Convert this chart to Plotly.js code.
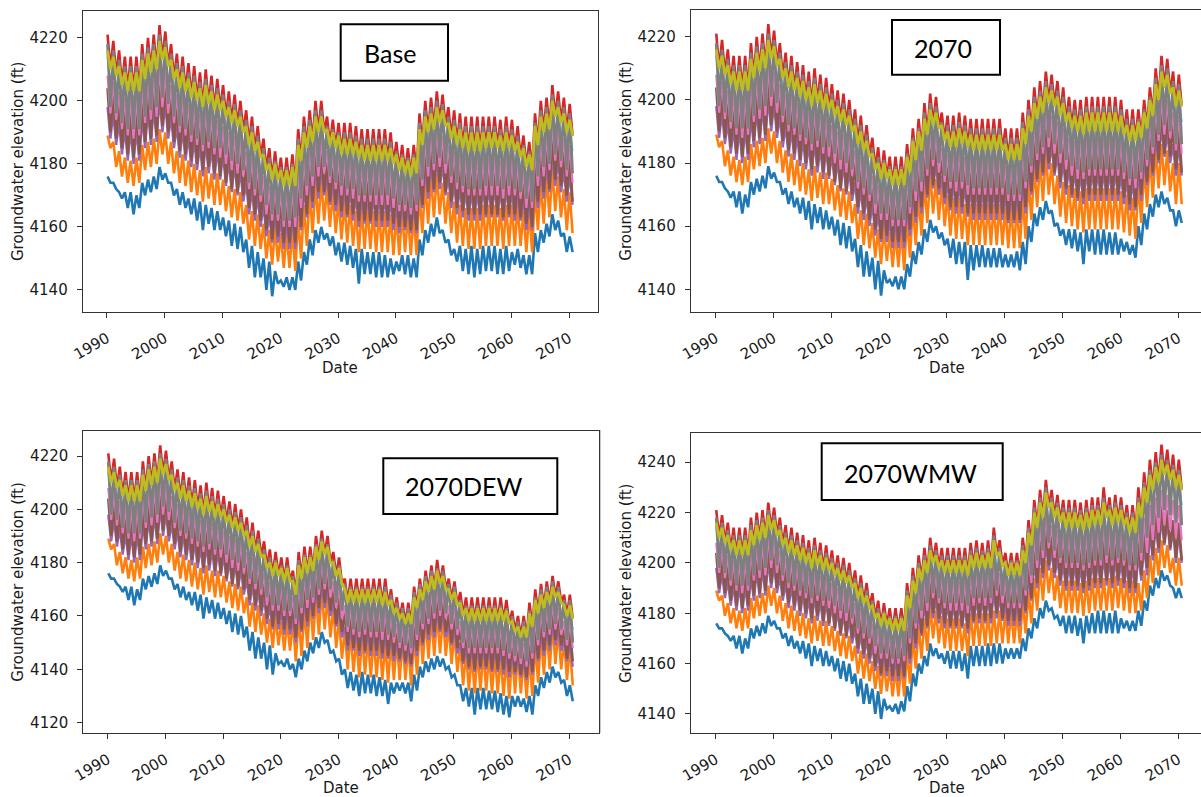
<!DOCTYPE html>
<html>
<head>
<meta charset="utf-8">
<script src="https://cdn.plot.ly/plotly-3.0.1.min.js"></script>
<style>
html,body{margin:0;padding:0;background:#fff;}
#chart{width:1201px;height:797px;}
</style>
</head>
<body>
<div id="chart"></div>
<script>
// ---------------- DATA ----------------
// Each array holds, for every year, the [seasonal peak, seasonal trough].
const firstYear = 1990, lastYear = 2070;
const decadeTicks = [1990, 2000, 2010, 2020, 2030, 2040, 2050, 2060, 2070];
const panelLabels = ["Base", "2070", "2070DEW", "2070WMW"];

// Shared history 1990-2021 (identical in all four scenarios)
const histBlue = [4176,4174, 4174,4172, 4171,4169, 4171,4166, 4171,4164, 4170,4166, 4174,4170, 4175,4171, 4176,4172, 4179,4175,
  4177,4174, 4174,4170, 4172,4167, 4171,4166, 4169,4164, 4169,4162, 4168,4159, 4167,4161, 4166,4159, 4165,4159,
  4163,4157, 4162,4154, 4161,4153, 4160,4152, 4156,4147, 4154,4144, 4152,4144, 4150,4140, 4149,4138, 4146,4142,
  4143,4141, 4144,4140];
const histOrange = [4189,4185, 4187,4179, 4184,4176, 4182,4174, 4181,4173, 4182,4174, 4186,4178, 4187,4179, 4188,4180, 4191,4183,
  4190,4180, 4187,4177, 4184,4174, 4183,4173, 4181,4171, 4180,4170, 4178,4168, 4179,4169, 4177,4167, 4177,4167,
  4175,4165, 4173,4163, 4172,4162, 4171,4161, 4167,4156, 4165,4154, 4164,4153, 4161,4150, 4159,4148, 4160,4149,
  4158,4147, 4158,4147];
const histPurple = [4198,4188, 4196,4186, 4193,4183, 4191,4181, 4191,4180, 4191,4181, 4195,4185, 4197,4186, 4198,4187, 4201,4190,
  4199,4188, 4195,4185, 4192,4182, 4191,4181, 4189,4179, 4188,4178, 4186,4176, 4187,4177, 4185,4175, 4185,4175,
  4183,4173, 4181,4171, 4180,4170, 4178,4168, 4174,4164, 4172,4162, 4170,4160, 4167,4157, 4164,4155, 4164,4155,
  4162,4153, 4162,4153];
const histBrown = [4204,4190, 4202,4188, 4199,4185, 4197,4183, 4197,4182, 4197,4183, 4201,4187, 4203,4188, 4204,4189, 4207,4192,
  4205,4190, 4201,4187, 4198,4184, 4197,4183, 4195,4181, 4194,4180, 4192,4178, 4193,4179, 4191,4177, 4191,4176,
  4189,4174, 4187,4172, 4186,4171, 4184,4170, 4180,4166, 4178,4164, 4176,4162, 4173,4159, 4170,4156, 4170,4157,
  4168,4155, 4168,4155];
const histPink = [4208,4196, 4206,4194, 4203,4191, 4201,4189, 4201,4188, 4201,4189, 4205,4193, 4207,4194, 4208,4195, 4211,4198,
  4209,4196, 4205,4193, 4202,4190, 4201,4189, 4199,4187, 4198,4186, 4196,4184, 4197,4185, 4195,4183, 4194,4182,
  4192,4180, 4190,4178, 4189,4177, 4188,4176, 4184,4172, 4182,4170, 4180,4168, 4176,4164, 4173,4162, 4173,4162,
  4171,4160, 4171,4160];
const histCyan = [4214,4205, 4212,4203, 4209,4200, 4207,4198, 4206,4198, 4207,4198, 4211,4202, 4212,4204, 4213,4205, 4216,4208,
  4214,4206, 4211,4202, 4208,4199, 4207,4198, 4205,4196, 4204,4195, 4202,4193, 4203,4194, 4201,4192, 4200,4192,
  4198,4190, 4196,4188, 4195,4187, 4193,4185, 4190,4181, 4188,4179, 4185,4177, 4181,4173, 4178,4171, 4178,4170,
  4176,4168, 4176,4168];
const histGray = [4218,4198, 4216,4196, 4213,4193, 4211,4191, 4211,4191, 4211,4191, 4215,4195, 4217,4197, 4218,4198, 4221,4201,
  4219,4199, 4215,4195, 4212,4192, 4211,4191, 4209,4189, 4208,4188, 4206,4186, 4207,4187, 4205,4185, 4204,4185,
  4202,4183, 4200,4181, 4199,4180, 4197,4178, 4194,4174, 4192,4172, 4189,4170, 4185,4167, 4182,4164, 4181,4164,
  4179,4162, 4179,4162];
const histOlive = [4216,4210, 4214,4208, 4211,4205, 4209,4203, 4209,4203, 4209,4203, 4213,4207, 4215,4209, 4216,4210, 4219,4213,
  4217,4211, 4213,4207, 4210,4204, 4209,4203, 4207,4201, 4206,4200, 4204,4198, 4205,4199, 4203,4197, 4202,4197,
  4200,4195, 4198,4193, 4197,4192, 4195,4190, 4192,4186, 4190,4184, 4187,4182, 4183,4178, 4180,4175, 4180,4175,
  4178,4173, 4178,4173];
const histRed = [4221,4210, 4219,4208, 4216,4205, 4214,4203, 4214,4203, 4214,4203, 4218,4207, 4220,4209, 4221,4210, 4224,4213,
  4222,4211, 4218,4207, 4215,4204, 4214,4203, 4212,4201, 4211,4200, 4209,4198, 4210,4199, 4208,4197, 4207,4197,
  4205,4195, 4203,4193, 4202,4192, 4200,4190, 4197,4186, 4195,4184, 4192,4182, 4188,4178, 4185,4175, 4184,4175,
  4182,4173, 4182,4173];

// Scenario "Base", 2022-2070
const baseBlue = [4144,4140, 4149,4143, 4152,4148, 4156,4151, 4159,4155, 4160,4156, 4158,4154, 4157,4151, 4155,4149, 4155,4148,
  4154,4147, 4153,4142, 4153,4145, 4152,4145, 4152,4144, 4152,4144, 4151,4144, 4150,4145, 4149,4146, 4151,4145,
  4151,4144, 4150,4144, 4156,4151, 4159,4155, 4161,4157, 4163,4158, 4159,4155, 4156,4151, 4153,4149, 4154,4146,
  4153,4145, 4154,4144, 4153,4145, 4154,4146, 4154,4146, 4154,4145, 4153,4145, 4154,4146, 4152,4148, 4153,4147,
  4151,4145, 4151,4145, 4158,4152, 4159,4155, 4161,4157, 4164,4159, 4162,4157, 4158,4152, 4157,4152];
const baseOrange = [4159,4146, 4163,4150, 4167,4154, 4171,4158, 4174,4161, 4175,4162, 4173,4160, 4171,4158, 4169,4156, 4168,4155,
  4167,4154, 4165,4152, 4166,4153, 4166,4153, 4165,4152, 4165,4152, 4165,4152, 4164,4151, 4164,4151, 4165,4152,
  4164,4151, 4164,4151, 4171,4158, 4174,4161, 4176,4163, 4177,4164, 4174,4161, 4171,4158, 4168,4155, 4167,4154,
  4166,4153, 4166,4153, 4166,4153, 4167,4154, 4167,4154, 4167,4154, 4166,4153, 4167,4154, 4167,4154, 4167,4154,
  4165,4152, 4165,4152, 4172,4159, 4174,4161, 4176,4163, 4178,4165, 4176,4163, 4172,4159, 4171,4158];
const basePurple = [4163,4153, 4169,4159, 4173,4163, 4176,4166, 4179,4169, 4179,4170, 4176,4167, 4174,4165, 4173,4163, 4172,4163,
  4172,4162, 4170,4160, 4170,4161, 4170,4161, 4170,4160, 4170,4160, 4170,4160, 4169,4159, 4167,4158, 4167,4159,
  4166,4158, 4167,4158, 4175,4166, 4179,4169, 4180,4171, 4182,4172, 4180,4170, 4176,4166, 4174,4164, 4173,4163,
  4172,4162, 4172,4162, 4172,4162, 4173,4163, 4173,4163, 4173,4163, 4172,4162, 4173,4163, 4172,4162, 4171,4162,
  4169,4159, 4168,4159, 4176,4166, 4179,4169, 4180,4171, 4183,4173, 4181,4171, 4178,4168, 4177,4167];
const baseBrown = [4168,4155, 4175,4160, 4179,4164, 4182,4168, 4185,4171, 4185,4171, 4181,4168, 4180,4167, 4178,4165, 4178,4164,
  4178,4164, 4176,4162, 4176,4162, 4176,4162, 4176,4162, 4176,4162, 4176,4162, 4175,4161, 4173,4160, 4173,4160,
  4172,4159, 4172,4159, 4181,4167, 4185,4171, 4186,4172, 4188,4174, 4186,4171, 4182,4168, 4180,4166, 4179,4165,
  4178,4164, 4178,4164, 4178,4164, 4179,4164, 4179,4164, 4179,4164, 4178,4163, 4179,4164, 4178,4164, 4177,4163,
  4174,4161, 4173,4160, 4181,4168, 4185,4171, 4186,4172, 4189,4175, 4187,4173, 4184,4170, 4183,4168];
const basePink = [4172,4160, 4178,4166, 4182,4170, 4185,4173, 4188,4176, 4188,4177, 4184,4174, 4183,4172, 4182,4170, 4181,4170,
  4181,4169, 4180,4168, 4179,4168, 4179,4168, 4179,4167, 4179,4167, 4179,4167, 4178,4166, 4176,4165, 4175,4165,
  4174,4164, 4175,4165, 4184,4173, 4188,4176, 4189,4178, 4191,4179, 4189,4177, 4186,4174, 4184,4172, 4183,4171,
  4182,4170, 4182,4170, 4182,4170, 4182,4170, 4182,4170, 4182,4170, 4181,4169, 4182,4170, 4182,4170, 4180,4169,
  4178,4166, 4176,4166, 4185,4173, 4188,4176, 4189,4178, 4193,4181, 4191,4179, 4188,4176, 4186,4174];
const baseCyan = [4176,4169, 4184,4176, 4188,4180, 4190,4182, 4193,4185, 4193,4186, 4189,4182, 4188,4180, 4186,4179, 4186,4179,
  4186,4178, 4185,4177, 4184,4177, 4184,4177, 4184,4176, 4184,4176, 4184,4176, 4183,4175, 4181,4173, 4180,4173,
  4179,4172, 4180,4173, 4189,4182, 4193,4185, 4194,4187, 4196,4188, 4195,4187, 4191,4183, 4190,4181, 4189,4180,
  4188,4179, 4188,4179, 4188,4179, 4188,4180, 4188,4180, 4188,4180, 4187,4179, 4188,4180, 4187,4179, 4185,4178,
  4182,4175, 4181,4174, 4189,4182, 4193,4185, 4194,4187, 4198,4190, 4196,4188, 4194,4185, 4192,4184];
const baseGray = [4180,4163, 4188,4169, 4192,4173, 4194,4176, 4197,4179, 4197,4179, 4192,4176, 4191,4174, 4190,4173, 4190,4172,
  4190,4172, 4189,4170, 4188,4170, 4188,4170, 4188,4170, 4188,4170, 4188,4170, 4187,4169, 4184,4167, 4183,4167,
  4182,4166, 4183,4167, 4193,4175, 4197,4179, 4198,4180, 4200,4182, 4199,4180, 4195,4176, 4194,4174, 4193,4173,
  4192,4172, 4192,4172, 4192,4172, 4192,4173, 4192,4173, 4192,4173, 4191,4172, 4192,4173, 4191,4172, 4189,4171,
  4186,4169, 4184,4168, 4193,4176, 4197,4179, 4198,4180, 4202,4183, 4200,4181, 4198,4178, 4196,4177];
const baseOlive = [4179,4173, 4186,4181, 4190,4185, 4192,4187, 4195,4190, 4195,4190, 4191,4186, 4190,4185, 4189,4183, 4188,4183,
  4188,4183, 4187,4182, 4186,4181, 4186,4181, 4186,4181, 4186,4181, 4186,4181, 4185,4180, 4183,4178, 4182,4177,
  4181,4176, 4182,4177, 4191,4186, 4195,4190, 4196,4191, 4198,4193, 4197,4192, 4193,4188, 4192,4186, 4191,4185,
  4190,4184, 4190,4184, 4190,4184, 4190,4185, 4190,4185, 4190,4185, 4189,4184, 4190,4185, 4189,4184, 4187,4182,
  4185,4179, 4183,4178, 4192,4186, 4195,4190, 4196,4191, 4200,4195, 4198,4193, 4196,4190, 4194,4189];
const baseRed = [4183,4173, 4191,4181, 4195,4185, 4197,4187, 4200,4190, 4200,4190, 4195,4186, 4194,4185, 4193,4183, 4193,4183,
  4193,4183, 4192,4182, 4191,4181, 4191,4181, 4191,4181, 4191,4181, 4191,4181, 4190,4180, 4187,4178, 4186,4177,
  4185,4176, 4186,4177, 4196,4186, 4200,4190, 4201,4191, 4203,4193, 4202,4192, 4198,4188, 4197,4186, 4196,4185,
  4195,4184, 4195,4184, 4195,4184, 4195,4185, 4195,4185, 4195,4185, 4194,4184, 4195,4185, 4194,4184, 4192,4182,
  4189,4179, 4187,4178, 4196,4186, 4200,4190, 4201,4191, 4205,4195, 4203,4193, 4201,4190, 4199,4189];

// Scenario "2070", 2022-2070
const f70Blue = [4144,4140, 4148,4144, 4152,4148, 4155,4151, 4159,4155, 4162,4158, 4160,4156, 4158,4154, 4156,4150, 4156,4148,
  4155,4148, 4155,4143, 4154,4146, 4154,4147, 4154,4147, 4153,4147, 4153,4147, 4153,4147, 4151,4147, 4151,4147,
  4152,4146, 4155,4148, 4160,4155, 4164,4160, 4166,4162, 4168,4164, 4165,4160, 4161,4157, 4159,4154, 4159,4153,
  4159,4152, 4158,4148, 4159,4152, 4159,4151, 4159,4151, 4159,4151, 4158,4151, 4158,4151, 4156,4152, 4155,4151,
  4154,4150, 4160,4154, 4164,4159, 4167,4163, 4170,4166, 4171,4167, 4169,4165, 4165,4160, 4165,4161];
const f70Orange = [4159,4146, 4163,4150, 4167,4154, 4170,4157, 4174,4161, 4177,4164, 4175,4162, 4173,4160, 4170,4157, 4169,4156,
  4169,4156, 4167,4154, 4167,4154, 4167,4154, 4167,4154, 4167,4154, 4167,4154, 4167,4154, 4166,4153, 4166,4153,
  4166,4153, 4169,4156, 4175,4162, 4179,4166, 4181,4168, 4183,4170, 4180,4167, 4176,4163, 4174,4161, 4173,4160,
  4172,4159, 4171,4158, 4172,4159, 4172,4159, 4172,4159, 4172,4159, 4172,4159, 4172,4159, 4171,4158, 4170,4157,
  4169,4156, 4174,4161, 4179,4166, 4182,4169, 4185,4172, 4186,4173, 4184,4171, 4180,4167, 4180,4167];
const f70Purple = [4162,4153, 4166,4157, 4171,4161, 4174,4164, 4178,4169, 4181,4172, 4180,4170, 4176,4167, 4174,4165, 4174,4164,
  4174,4164, 4173,4163, 4172,4162, 4172,4162, 4172,4162, 4172,4162, 4172,4162, 4172,4162, 4170,4161, 4170,4161,
  4170,4161, 4174,4164, 4179,4170, 4183,4174, 4185,4176, 4188,4178, 4186,4176, 4183,4172, 4181,4170, 4179,4169,
  4178,4168, 4177,4167, 4178,4168, 4178,4168, 4178,4168, 4178,4168, 4178,4168, 4178,4168, 4177,4167, 4175,4165,
  4175,4165, 4177,4168, 4181,4173, 4185,4176, 4189,4180, 4192,4182, 4190,4180, 4186,4176, 4186,4176];
const f70Brown = [4168,4155, 4172,4159, 4176,4163, 4179,4166, 4184,4170, 4187,4173, 4186,4172, 4182,4169, 4180,4166, 4180,4166,
  4180,4166, 4179,4164, 4178,4164, 4178,4164, 4178,4164, 4178,4164, 4178,4164, 4178,4164, 4176,4162, 4176,4162,
  4176,4162, 4180,4166, 4185,4171, 4189,4175, 4191,4177, 4194,4180, 4192,4177, 4189,4174, 4187,4172, 4185,4170,
  4184,4169, 4183,4169, 4184,4170, 4184,4170, 4184,4170, 4184,4170, 4184,4170, 4184,4170, 4183,4169, 4181,4167,
  4181,4166, 4183,4170, 4187,4174, 4190,4177, 4195,4181, 4198,4183, 4196,4182, 4192,4178, 4192,4177];
const f70Pink = [4171,4160, 4175,4164, 4180,4168, 4183,4171, 4187,4176, 4190,4179, 4189,4177, 4185,4174, 4183,4172, 4183,4171,
  4184,4172, 4182,4170, 4182,4170, 4182,4170, 4182,4170, 4182,4170, 4182,4170, 4182,4170, 4179,4168, 4179,4168,
  4179,4168, 4184,4172, 4188,4177, 4192,4181, 4194,4183, 4197,4185, 4195,4183, 4193,4180, 4191,4178, 4188,4176,
  4187,4175, 4187,4175, 4188,4176, 4188,4176, 4188,4176, 4188,4176, 4188,4176, 4188,4176, 4187,4175, 4185,4173,
  4184,4172, 4186,4175, 4189,4179, 4193,4183, 4198,4187, 4201,4189, 4200,4188, 4196,4184, 4195,4183];
const f70Cyan = [4176,4168, 4180,4172, 4184,4177, 4187,4180, 4192,4185, 4195,4188, 4194,4186, 4190,4182, 4188,4181, 4188,4180,
  4189,4181, 4188,4180, 4187,4179, 4187,4179, 4187,4179, 4187,4179, 4187,4179, 4187,4179, 4184,4177, 4184,4177,
  4184,4177, 4189,4181, 4193,4186, 4197,4190, 4199,4192, 4202,4194, 4201,4193, 4198,4190, 4196,4188, 4194,4186,
  4193,4185, 4193,4184, 4194,4185, 4194,4185, 4194,4185, 4194,4185, 4194,4185, 4194,4185, 4193,4184, 4190,4182,
  4190,4182, 4191,4183, 4194,4187, 4198,4191, 4203,4196, 4207,4199, 4206,4197, 4202,4193, 4201,4193];
const f70Gray = [4179,4162, 4183,4166, 4188,4171, 4191,4174, 4196,4178, 4199,4181, 4198,4180, 4193,4176, 4192,4174, 4192,4174,
  4193,4174, 4192,4173, 4191,4172, 4191,4172, 4191,4172, 4191,4172, 4191,4172, 4191,4172, 4188,4170, 4188,4170,
  4188,4170, 4193,4174, 4197,4179, 4201,4183, 4203,4185, 4206,4188, 4205,4186, 4203,4183, 4201,4181, 4198,4179,
  4197,4178, 4197,4177, 4198,4178, 4198,4178, 4198,4178, 4198,4178, 4198,4178, 4198,4178, 4197,4177, 4194,4175,
  4194,4175, 4194,4177, 4197,4181, 4201,4185, 4207,4189, 4211,4192, 4210,4190, 4206,4186, 4205,4186];
const f70Olive = [4178,4173, 4182,4177, 4187,4181, 4190,4184, 4194,4189, 4197,4192, 4196,4191, 4192,4187, 4190,4185, 4190,4185,
  4191,4186, 4190,4185, 4189,4184, 4189,4184, 4189,4184, 4189,4184, 4189,4184, 4189,4184, 4186,4181, 4186,4181,
  4186,4181, 4191,4186, 4195,4190, 4199,4194, 4201,4196, 4204,4199, 4203,4198, 4201,4195, 4199,4193, 4196,4191,
  4195,4190, 4195,4189, 4196,4190, 4196,4190, 4196,4190, 4196,4190, 4196,4190, 4196,4190, 4195,4189, 4192,4187,
  4192,4187, 4193,4188, 4196,4191, 4200,4195, 4205,4200, 4209,4204, 4208,4202, 4204,4198, 4203,4198];
const f70Red = [4182,4173, 4186,4177, 4191,4181, 4194,4184, 4199,4189, 4202,4192, 4201,4191, 4196,4187, 4195,4185, 4195,4185,
  4196,4186, 4195,4185, 4194,4184, 4194,4184, 4194,4184, 4194,4184, 4194,4184, 4194,4184, 4191,4181, 4191,4181,
  4191,4181, 4196,4186, 4200,4190, 4204,4194, 4206,4196, 4209,4199, 4208,4198, 4206,4195, 4204,4193, 4201,4191,
  4200,4190, 4200,4189, 4201,4190, 4201,4190, 4201,4190, 4201,4190, 4201,4190, 4201,4190, 4200,4189, 4197,4187,
  4197,4187, 4197,4188, 4200,4191, 4204,4195, 4210,4200, 4214,4204, 4213,4202, 4209,4198, 4208,4198];

// Scenario "2070DEW", 2022-2070
const dewBlue = [4142,4137, 4144,4140, 4147,4143, 4150,4146, 4152,4148, 4154,4150, 4151,4146, 4147,4143, 4144,4138, 4140,4133,
  4139,4132, 4138,4130, 4139,4131, 4138,4131, 4138,4130, 4137,4130, 4136,4127, 4135,4131, 4135,4132, 4135,4131,
  4135,4128, 4138,4132, 4141,4137, 4143,4139, 4144,4140, 4145,4141, 4144,4140, 4141,4137, 4138,4134, 4134,4128,
  4133,4126, 4133,4123, 4133,4125, 4133,4125, 4132,4125, 4132,4124, 4131,4123, 4130,4122, 4130,4126, 4130,4126,
  4129,4124, 4130,4123, 4134,4130, 4137,4133, 4139,4135, 4141,4137, 4139,4135, 4136,4130, 4134,4128];
const dewOrange = [4158,4143, 4160,4145, 4163,4148, 4166,4151, 4168,4153, 4170,4155, 4167,4152, 4163,4148, 4159,4144, 4155,4140,
  4154,4139, 4152,4137, 4153,4138, 4152,4137, 4152,4137, 4151,4136, 4150,4135, 4151,4136, 4151,4136, 4151,4136,
  4149,4134, 4153,4138, 4157,4142, 4159,4144, 4160,4145, 4161,4146, 4160,4145, 4157,4142, 4154,4139, 4149,4134,
  4147,4132, 4146,4131, 4147,4132, 4147,4132, 4146,4131, 4146,4131, 4145,4130, 4144,4129, 4146,4131, 4146,4131,
  4144,4129, 4145,4130, 4150,4135, 4153,4138, 4155,4140, 4157,4142, 4155,4140, 4151,4136, 4149,4134];
const dewPurple = [4159,4150, 4163,4154, 4166,4156, 4167,4159, 4170,4161, 4172,4163, 4170,4160, 4165,4156, 4162,4152, 4156,4147,
  4155,4147, 4154,4145, 4155,4146, 4154,4145, 4154,4145, 4154,4144, 4153,4144, 4152,4143, 4150,4143, 4149,4142,
  4148,4141, 4153,4145, 4157,4149, 4159,4151, 4161,4152, 4162,4154, 4161,4152, 4157,4149, 4155,4146, 4150,4142,
  4148,4140, 4148,4139, 4148,4140, 4148,4140, 4148,4139, 4148,4139, 4147,4138, 4146,4137, 4145,4138, 4144,4137,
  4143,4136, 4146,4138, 4151,4143, 4154,4145, 4155,4147, 4157,4149, 4155,4147, 4151,4143, 4150,4141];
const dewBrown = [4164,4152, 4169,4155, 4171,4158, 4173,4160, 4176,4163, 4178,4165, 4175,4162, 4170,4157, 4167,4154, 4161,4149,
  4161,4148, 4160,4147, 4160,4147, 4160,4147, 4160,4147, 4159,4146, 4159,4145, 4157,4145, 4155,4144, 4154,4143,
  4153,4142, 4158,4147, 4161,4150, 4164,4153, 4166,4154, 4168,4155, 4166,4154, 4161,4150, 4160,4148, 4156,4143,
  4154,4141, 4153,4140, 4154,4141, 4154,4141, 4153,4140, 4153,4140, 4153,4140, 4152,4139, 4150,4139, 4149,4138,
  4148,4137, 4152,4139, 4157,4144, 4159,4147, 4160,4149, 4162,4151, 4160,4149, 4155,4144, 4155,4143];
const dewPink = [4167,4157, 4172,4161, 4175,4163, 4175,4165, 4179,4168, 4181,4170, 4179,4167, 4173,4163, 4171,4159, 4164,4154,
  4163,4153, 4163,4152, 4163,4153, 4163,4152, 4163,4152, 4163,4151, 4162,4151, 4160,4150, 4157,4148, 4156,4147,
  4155,4146, 4161,4151, 4164,4155, 4167,4157, 4169,4159, 4170,4160, 4169,4159, 4164,4155, 4163,4153, 4158,4148,
  4156,4146, 4156,4146, 4156,4146, 4156,4146, 4156,4146, 4156,4146, 4156,4145, 4155,4144, 4152,4143, 4151,4142,
  4150,4141, 4154,4144, 4159,4149, 4162,4152, 4163,4153, 4165,4155, 4163,4153, 4158,4149, 4158,4148];
const dewCyan = [4171,4164, 4177,4170, 4179,4172, 4180,4173, 4184,4176, 4186,4178, 4183,4176, 4178,4171, 4175,4168, 4168,4161,
  4168,4161, 4168,4160, 4168,4161, 4168,4160, 4168,4160, 4167,4160, 4167,4160, 4164,4157, 4162,4155, 4160,4154,
  4160,4153, 4165,4159, 4168,4162, 4171,4165, 4173,4166, 4175,4168, 4173,4166, 4168,4162, 4167,4160, 4163,4156,
  4161,4154, 4161,4154, 4161,4154, 4161,4154, 4161,4154, 4161,4154, 4161,4153, 4160,4152, 4157,4150, 4155,4149,
  4155,4148, 4159,4152, 4164,4157, 4166,4159, 4167,4161, 4169,4163, 4167,4161, 4162,4156, 4162,4155];
const dewGray = [4175,4159, 4181,4163, 4183,4166, 4183,4167, 4187,4170, 4189,4172, 4187,4170, 4181,4165, 4179,4162, 4172,4156,
  4171,4155, 4171,4154, 4171,4155, 4171,4154, 4171,4154, 4171,4154, 4171,4153, 4168,4152, 4165,4150, 4163,4149,
  4163,4148, 4169,4153, 4172,4157, 4175,4159, 4177,4161, 4178,4162, 4177,4161, 4172,4157, 4171,4155, 4166,4150,
  4164,4148, 4164,4148, 4164,4148, 4164,4148, 4164,4148, 4164,4148, 4164,4147, 4163,4146, 4160,4145, 4158,4144,
  4158,4143, 4162,4146, 4167,4151, 4170,4154, 4171,4155, 4173,4157, 4171,4155, 4166,4151, 4166,4150];
const dewOlive = [4173,4168, 4179,4174, 4182,4176, 4182,4177, 4186,4181, 4188,4183, 4186,4180, 4180,4175, 4178,4172, 4170,4165,
  4170,4165, 4170,4165, 4170,4165, 4170,4165, 4170,4165, 4170,4164, 4169,4164, 4166,4161, 4163,4159, 4161,4157,
  4161,4157, 4167,4163, 4170,4166, 4173,4169, 4175,4170, 4177,4172, 4175,4170, 4170,4166, 4169,4164, 4165,4160,
  4163,4158, 4163,4158, 4163,4158, 4163,4158, 4163,4158, 4163,4158, 4163,4158, 4162,4157, 4158,4154, 4156,4152,
  4156,4152, 4161,4156, 4166,4161, 4168,4163, 4169,4165, 4171,4167, 4169,4165, 4164,4160, 4164,4159];
const dewRed = [4177,4168, 4184,4174, 4186,4176, 4186,4177, 4190,4181, 4192,4183, 4190,4180, 4184,4175, 4182,4172, 4174,4165,
  4174,4165, 4174,4165, 4174,4165, 4174,4165, 4174,4165, 4174,4164, 4174,4164, 4170,4161, 4167,4159, 4165,4157,
  4165,4157, 4171,4163, 4174,4166, 4177,4169, 4179,4170, 4181,4172, 4179,4170, 4174,4166, 4173,4164, 4169,4160,
  4167,4158, 4167,4158, 4167,4158, 4167,4158, 4167,4158, 4167,4158, 4167,4158, 4166,4157, 4162,4154, 4160,4152,
  4160,4152, 4165,4156, 4170,4161, 4172,4163, 4173,4165, 4175,4167, 4173,4165, 4168,4160, 4168,4159];

// Scenario "2070WMW", 2022-2070
const wmwBlue = [4145,4141, 4151,4145, 4156,4151, 4160,4156, 4163,4159, 4168,4163, 4166,4162, 4164,4160, 4165,4158, 4165,4158,
  4165,4157, 4164,4154, 4167,4159, 4167,4159, 4167,4159, 4168,4159, 4168,4160, 4168,4160, 4166,4162, 4166,4162,
  4166,4162, 4170,4165, 4174,4170, 4178,4174, 4182,4178, 4185,4181, 4182,4178, 4179,4175, 4179,4172, 4179,4172,
  4179,4171, 4178,4168, 4179,4172, 4180,4172, 4181,4172, 4181,4172, 4180,4172, 4181,4172, 4178,4174, 4177,4173,
  4177,4173, 4181,4175, 4185,4181, 4191,4187, 4194,4190, 4197,4193, 4195,4191, 4190,4186, 4190,4186];
const wmwOrange = [4160,4147, 4165,4152, 4171,4158, 4175,4162, 4178,4165, 4183,4170, 4181,4168, 4179,4166, 4178,4165, 4178,4165,
  4178,4165, 4176,4163, 4180,4167, 4180,4167, 4180,4167, 4180,4167, 4181,4168, 4181,4168, 4181,4168, 4181,4168,
  4181,4168, 4185,4172, 4189,4176, 4194,4181, 4198,4185, 4201,4188, 4198,4185, 4195,4182, 4193,4180, 4193,4180,
  4193,4180, 4192,4179, 4193,4180, 4194,4181, 4194,4181, 4194,4181, 4194,4181, 4195,4182, 4194,4181, 4193,4180,
  4193,4180, 4192,4181, 4197,4186, 4203,4192, 4206,4195, 4209,4198, 4207,4196, 4202,4191, 4202,4191];
const wmwPurple = [4163,4154, 4170,4160, 4176,4166, 4181,4171, 4184,4174, 4188,4178, 4186,4176, 4184,4174, 4184,4174, 4184,4174,
  4184,4174, 4183,4172, 4186,4176, 4186,4176, 4186,4176, 4186,4176, 4189,4178, 4187,4177, 4184,4175, 4184,4175,
  4184,4175, 4189,4180, 4195,4185, 4201,4190, 4205,4194, 4208,4197, 4205,4194, 4202,4191, 4200,4189, 4200,4189,
  4200,4189, 4199,4188, 4200,4189, 4201,4190, 4201,4190, 4203,4191, 4201,4190, 4202,4191, 4201,4190, 4199,4188,
  4199,4188, 4204,4193, 4207,4195, 4212,4201, 4215,4204, 4218,4207, 4216,4205, 4213,4200, 4212,4200];
const wmwBrown = [4168,4155, 4176,4162, 4182,4168, 4187,4172, 4190,4175, 4194,4180, 4192,4178, 4190,4176, 4190,4175, 4190,4175,
  4190,4175, 4189,4174, 4192,4177, 4192,4178, 4192,4177, 4192,4178, 4196,4180, 4193,4178, 4190,4177, 4190,4177,
  4190,4177, 4195,4181, 4201,4186, 4207,4192, 4211,4196, 4215,4199, 4211,4196, 4209,4193, 4207,4191, 4207,4191,
  4207,4191, 4206,4190, 4207,4191, 4208,4192, 4208,4192, 4211,4193, 4208,4192, 4209,4193, 4208,4192, 4206,4190,
  4206,4190, 4211,4195, 4213,4198, 4218,4203, 4221,4206, 4223,4208, 4221,4206, 4217,4202, 4216,4201];
const wmwPink = [4171,4161, 4180,4168, 4186,4174, 4190,4178, 4193,4181, 4198,4186, 4196,4184, 4194,4182, 4193,4181, 4193,4181,
  4193,4181, 4193,4180, 4195,4183, 4196,4184, 4195,4183, 4196,4184, 4200,4187, 4196,4184, 4193,4182, 4193,4182,
  4193,4182, 4198,4187, 4204,4192, 4211,4198, 4215,4202, 4219,4206, 4215,4202, 4213,4200, 4211,4198, 4211,4198,
  4211,4198, 4210,4197, 4211,4198, 4212,4199, 4212,4199, 4215,4200, 4212,4199, 4213,4200, 4212,4199, 4210,4197,
  4210,4197, 4215,4201, 4218,4204, 4223,4209, 4226,4212, 4229,4215, 4227,4213, 4225,4210, 4223,4209];
const wmwCyan = [4176,4169, 4185,4177, 4191,4183, 4196,4188, 4199,4191, 4203,4195, 4201,4193, 4199,4191, 4199,4191, 4199,4191,
  4199,4191, 4198,4190, 4201,4193, 4202,4193, 4201,4193, 4202,4193, 4206,4197, 4202,4194, 4198,4190, 4198,4190,
  4198,4190, 4203,4196, 4210,4202, 4217,4208, 4221,4212, 4225,4216, 4221,4212, 4219,4210, 4217,4208, 4217,4208,
  4217,4208, 4216,4207, 4217,4208, 4218,4209, 4218,4209, 4221,4212, 4218,4209, 4219,4210, 4218,4209, 4215,4207,
  4215,4207, 4222,4212, 4228,4218, 4233,4223, 4236,4226, 4239,4229, 4237,4227, 4234,4224, 4233,4223];
const wmwGray = [4179,4163, 4189,4170, 4195,4176, 4200,4181, 4203,4184, 4207,4188, 4205,4186, 4203,4184, 4203,4184, 4203,4184,
  4203,4184, 4203,4183, 4205,4186, 4206,4186, 4205,4186, 4206,4186, 4211,4189, 4206,4187, 4201,4184, 4201,4184,
  4201,4184, 4207,4189, 4214,4195, 4222,4201, 4226,4205, 4230,4208, 4226,4205, 4224,4202, 4222,4200, 4222,4200,
  4222,4200, 4221,4199, 4222,4200, 4223,4201, 4223,4201, 4226,4203, 4223,4201, 4224,4202, 4223,4201, 4220,4199,
  4220,4199, 4226,4204, 4232,4210, 4237,4215, 4240,4218, 4243,4221, 4241,4219, 4239,4216, 4237,4215];
const wmwOlive = [4178,4173, 4187,4182, 4193,4188, 4198,4193, 4201,4196, 4205,4200, 4203,4198, 4201,4196, 4201,4196, 4201,4196,
  4201,4196, 4201,4195, 4203,4198, 4204,4198, 4203,4198, 4204,4198, 4209,4203, 4204,4199, 4200,4195, 4200,4195,
  4200,4195, 4205,4200, 4212,4207, 4220,4214, 4224,4218, 4228,4222, 4224,4218, 4222,4216, 4220,4214, 4220,4214,
  4220,4214, 4219,4213, 4220,4214, 4221,4215, 4221,4215, 4224,4218, 4221,4215, 4222,4216, 4221,4215, 4218,4212,
  4218,4212, 4224,4218, 4230,4224, 4235,4229, 4238,4232, 4241,4235, 4239,4233, 4237,4230, 4235,4229];
const wmwRed = [4182,4173, 4192,4182, 4198,4188, 4203,4193, 4206,4196, 4210,4200, 4208,4198, 4206,4196, 4206,4196, 4206,4196,
  4206,4196, 4206,4195, 4208,4198, 4209,4198, 4208,4198, 4209,4198, 4214,4203, 4209,4199, 4204,4195, 4204,4195,
  4204,4195, 4210,4200, 4217,4207, 4225,4214, 4229,4218, 4233,4222, 4229,4218, 4227,4216, 4225,4214, 4225,4214,
  4225,4214, 4224,4213, 4225,4214, 4226,4215, 4226,4215, 4230,4218, 4226,4215, 4227,4216, 4226,4215, 4223,4212,
  4223,4212, 4230,4218, 4236,4224, 4241,4229, 4244,4232, 4247,4235, 4245,4233, 4243,4230, 4241,4229];

// ---------------- BUILD ----------------
const W = 1201, H = 797;
const px = x => x / W;
const py = y => 1 - y / H;

const seriesOrder = ["blue", "orange", "purple", "brown", "pink", "cyan", "red", "gray", "olive"];
const seriesColor = {blue:"#1f77b4", orange:"#ff7f0e", purple:"#9467bd", brown:"#8c564b", pink:"#e377c2",
  cyan:"#17becf", red:"#d62728", gray:"#7f7f7f", olive:"#bcbd22"};
const history = {blue:histBlue, orange:histOrange, purple:histPurple, brown:histBrown, pink:histPink,
  cyan:histCyan, red:histRed, gray:histGray, olive:histOlive};
const scenarios = [
  {blue:baseBlue, orange:baseOrange, purple:basePurple, brown:baseBrown, pink:basePink, cyan:baseCyan, red:baseRed, gray:baseGray, olive:baseOlive},
  {blue:f70Blue, orange:f70Orange, purple:f70Purple, brown:f70Brown, pink:f70Pink, cyan:f70Cyan, red:f70Red, gray:f70Gray, olive:f70Olive},
  {blue:dewBlue, orange:dewOrange, purple:dewPurple, brown:dewBrown, pink:dewPink, cyan:dewCyan, red:dewRed, gray:dewGray, olive:dewOlive},
  {blue:wmwBlue, orange:wmwOrange, purple:wmwPurple, brown:wmwBrown, pink:wmwPink, cyan:wmwCyan, red:wmwRed, gray:wmwGray, olive:wmwOlive}
];
const lineWidth = {blue:2.6, orange:2.6, purple:2.4, brown:2.6, pink:2.2, cyan:1.8, red:2.6, gray:2.8, olive:2.8};

// peak early in the year, trough mid-year
const xDates = [];
for (let y = firstYear; y <= lastYear; y++) { xDates.push(y + 0.1, y + 0.6); }

// panel frames in pixels (left, right, top, bottom), axis ranges, x-title centre
const frames = [
  {l:82.7, r:597.7, t:10.7, b:312, xr:[1985.8, 2074.95], yr:[4133.0, 4228.6], dx:339.7, dy:367.5},
  {l:690.7, r:1201, t:10, b:312, xr:[1985.68, 2073.93], yr:[4132.8, 4228.5], dx:946.5, dy:367.5},
  {l:83.3, r:599.3, t:430.7, b:733.3, xr:[1985.77, 2075.2], yr:[4116.0, 4229.5], dx:340.5, dy:788},
  {l:690.7, r:1201, t:433.3, b:733.3, xr:[1985.68, 2073.93], yr:[4132.3, 4251.5], dx:946.5, dy:788}
];

const traces = [];
scenarios.forEach((sc, i) => {
  const sfx = i === 0 ? "" : String(i + 1);
  seriesOrder.forEach(k => {
    traces.push({
      type: "scatter", mode: "lines",
      x: xDates, y: history[k].concat(sc[k]),
      xaxis: "x" + sfx, yaxis: "y" + sfx,
      line: {color: seriesColor[k], width: lineWidth[k]},
      hoverinfo: "skip", showlegend: false
    });
  });
});

const textFont = {family: "DejaVu Sans, sans-serif", size: 15, color: "#1a1a1a"};
const layout = {
  width: W, height: H,
  margin: {l:0, r:0, t:0, b:0},
  paper_bgcolor: "#ffffff", plot_bgcolor: "#ffffff",
  showlegend: false,
  font: textFont,
  shapes: [], annotations: []
};

frames.forEach((f, i) => {
  const sfx = i === 0 ? "" : String(i + 1);
  layout["xaxis" + sfx] = {
    domain: [px(f.l), px(f.r)], range: f.xr, anchor: "y" + sfx,
    showline: true, mirror: true, linecolor: "#333", linewidth: 1,
    ticks: "outside", ticklen: 5, tickwidth: 1, tickcolor: "#333",
    showgrid: false, zeroline: false,
    tickmode: "array", tickvals: decadeTicks, ticktext: decadeTicks.map(String),
    tickangle: -30, tickfont: textFont, ticklabelstandoff: 6
  };
  layout["yaxis" + sfx] = {
    domain: [py(f.b), py(f.t)], range: f.yr, anchor: "x" + sfx,
    showline: true, mirror: true, linecolor: "#333", linewidth: 1,
    ticks: "outside", ticklen: 5, tickwidth: 1, tickcolor: "#333",
    showgrid: false, zeroline: false,
    tickmode: "linear", tick0: 0, dtick: 20, tickfont: textFont,
    ticklabelstandoff: 6,
    title: {text: "Groundwater elevation (ft)", font: textFont, standoff: 2}
  };
  // x-axis title "Date"
  layout.annotations.push({xref:"paper", yref:"paper", x:px(f.dx), y:py(f.dy),
    xanchor:"center", yanchor:"middle", showarrow:false, text:"Date", font:textFont});
});

// Scenario label boxes (pixel geometry of each box and its text centre)
const labelBoxes = [
  {x0:340.7, x1:448, y0:24.3, y1:80.7, tx:390, ty:53},
  {x0:892, x1:1000, y0:20, y1:74.7, tx:943, ty:48},
  {x0:383.3, x1:557.3, y0:458.3, y1:514, tx:463, ty:486},
  {x0:821.7, x1:1002.7, y0:443.3, y1:500, tx:910, ty:473}
];
labelBoxes.forEach((b, i) => {
  layout.shapes.push({type:"rect", xref:"paper", yref:"paper",
    x0:px(b.x0), x1:px(b.x1), y0:py(b.y1), y1:py(b.y0),
    line:{color:"#000", width:2}, fillcolor:"#fff", layer:"above"});
  layout.annotations.push({xref:"paper", yref:"paper", x:px(b.tx), y:py(b.ty),
    xanchor:"center", yanchor:"middle", showarrow:false, text:panelLabels[i],
    font:{family:"Lato, Open Sans, sans-serif", size:25, color:"#000"}});
});

// thin grey separator line visible left of the lower-right panel
layout.shapes.push({type:"line", xref:"paper", yref:"paper",
  x0:px(600.5), x1:px(600.5), y0:py(733), y1:py(430),
  line:{color:"#c8c8c8", width:1}});

Plotly.newPlot("chart", traces, layout, {staticPlot:true, displayModeBar:false});
</script>
</body>
</html>
